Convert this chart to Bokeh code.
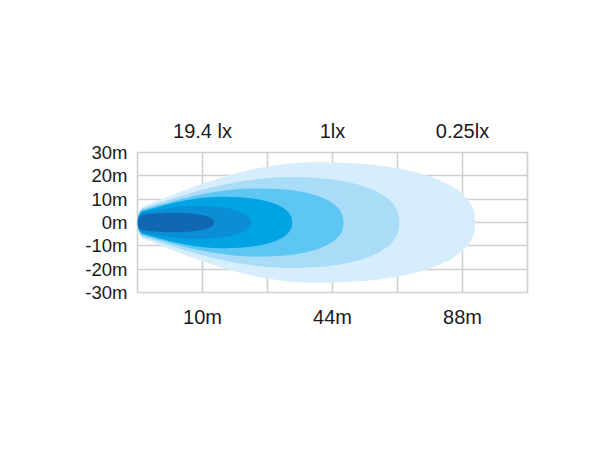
import numpy as np
from bokeh.plotting import figure
from bokeh.models import Range1d, FixedTicker, LinearAxis, ColumnDataSource
from bokeh.embed import file_html
from bokeh.resources import INLINE

# ---- data (x in grid columns from the lamp, y in metres) ----
y_ticks = [-30, -20, -10, 0, 10, 20, 30]
y_tick_labels = ["-30m", "-20m", "-10m", "0m", "10m", "20m", "30m"]
x_grid = [0, 1, 2, 3, 4, 5, 6]
dist_ticks = [1, 3, 5]
dist_labels = ["10m", "44m", "88m"]
lux_labels = ["19.4 lx", "1lx", "0.25lx"]

# beam zones, outermost first
zone_reach = [5.2, 4.03, 3.17, 2.38, 1.75, 1.18]      # where the zone ends
zone_peak = [2.74, 2.35, 1.85, 1.3, 0.9, 0.5]        # where it is widest
zone_halfwidth = [25.8, 19.4, 14.6, 11.0, 7.0, 4.2]  # max half-width (m)
zone_tip = [7.0, 6.3, 5.6, 5.0, 4.4, 3.4]            # half-width at the lamp
zone_colors = ["#d6edfb", "#a8dcf7", "#5dc6f2", "#00a3e4", "#0a8fd6", "#1067b2"]

CAP = 0.1
EXP = 2.3


def outline(reach, peak, w, tip):
    x1 = np.linspace(0, CAP, 30)
    h1 = tip * np.sqrt(np.clip(1 - ((CAP - x1) / CAP) ** 2, 0, 1))
    x2 = np.linspace(CAP, peak, 120)
    h2 = tip + (w - tip) * np.sin(np.pi / 2 * (x2 - CAP) / (peak - CAP))
    x3 = np.linspace(peak, reach, 160)
    t = (x3 - peak) / (reach - peak)
    h3 = w * np.clip(1 - t ** EXP, 0, 1) ** (1 / EXP)
    xs = np.concatenate([x1, x2, x3])
    hs = np.concatenate([h1, h2, h3])
    return list(np.concatenate([xs, xs[::-1]])), list(np.concatenate([hs, -hs[::-1]]))


xs_all, ys_all = [], []
for r, pk, w, tp in zip(zone_reach, zone_peak, zone_halfwidth, zone_tip):
    xx, yy = outline(r, pk, w, tp)
    xs_all.append(xx)
    ys_all.append(yy)

src = ColumnDataSource(dict(xs=xs_all, ys=ys_all, color=zone_colors))

p = figure(width=594, height=434, output_backend="svg", toolbar_location=None,
           x_range=Range1d(0, 6), y_range=Range1d(-30, 30),
           min_border_left=137, min_border_right=67,
           min_border_top=152, min_border_bottom=142,
           x_axis_location="below")
p.outline_line_color = "#d0d0d0"
p.outline_line_width = 1.6
p.background_fill_color = "white"
p.border_fill_color = "white"

p.patches("xs", "ys", source=src, fill_color="color", line_color=None)

GRID = "#d0d0d0"
p.xgrid.ticker = FixedTicker(ticks=x_grid)
p.ygrid.ticker = FixedTicker(ticks=y_ticks)
for g in (p.xgrid[0], p.ygrid[0]):
    g.grid_line_color = GRID
    g.grid_line_width = 1.6

FONT = "Liberation Sans"
TXT = "#1a1a1a"


def style(ax, size, standoff):
    ax.axis_line_color = None
    ax.major_tick_line_color = None
    ax.minor_tick_line_color = None
    ax.major_tick_out = 0
    ax.major_tick_in = 0
    ax.major_label_text_font = FONT
    ax.major_label_text_font_size = size
    ax.major_label_text_color = TXT
    ax.major_label_standoff = standoff


yax = p.yaxis[0]
yax.ticker = FixedTicker(ticks=y_ticks)
yax.major_label_overrides = {t: l for t, l in zip(y_ticks, y_tick_labels)}
style(yax, "18.5px", 10)

xax = p.xaxis[0]
xax.ticker = FixedTicker(ticks=dist_ticks)
xax.major_label_overrides = {t: l for t, l in zip(dist_ticks, dist_labels)}
style(xax, "20px", 13)

top = LinearAxis(ticker=FixedTicker(ticks=dist_ticks))
top.major_label_overrides = {t: l for t, l in zip(dist_ticks, lux_labels)}
style(top, "20px", 11)
p.add_layout(top, "above")

open("out.html", "w").write(file_html(p, INLINE))
